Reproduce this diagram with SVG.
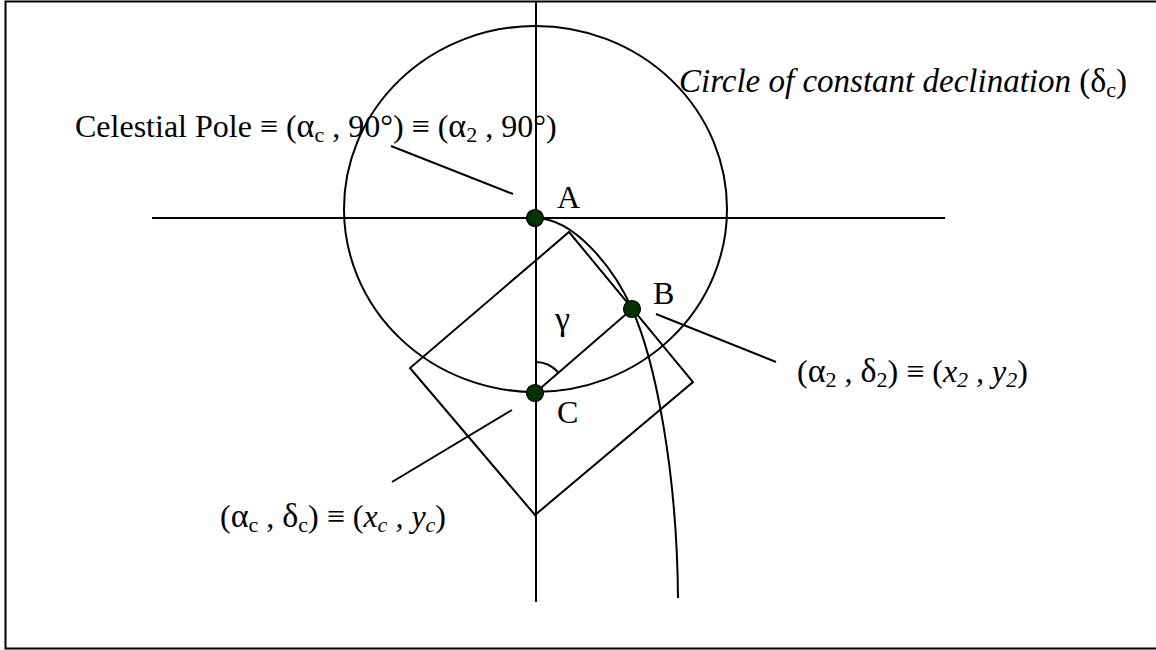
<svg xmlns="http://www.w3.org/2000/svg" width="1156" height="650" viewBox="0 0 1156 650">
<style>
.ln{fill:none;stroke:#000;stroke-width:2}
.dot{fill:#003300;stroke:#000;stroke-width:1.2}
.t{font-family:"Liberation Serif","Times New Roman",serif;font-size:32px;fill:#000}
.it{font-style:italic}
.gr{font-size:34px}
.sub{font-size:22px}
.big{font-size:33px}
</style>
<rect x="5.5" y="1.5" width="1160" height="647" class="ln"/>
<g id="connectors">
<line x1="536" y1="1" x2="536" y2="602" class="ln"/>
<line x1="152" y1="218" x2="945" y2="218" class="ln"/>
<ellipse cx="535.5" cy="209" rx="191.5" ry="183" class="ln"/>
<polygon points="569,232 693,382 535,515 410,368" class="ln"/>
<line x1="535" y1="393" x2="632" y2="309" class="ln"/>
<path d="M535,362 A31,31 0 0 1 558,372" class="ln"/>
<path d="M535,218 C575,218 615,270 632,309 C655,360 677,470 678,598" class="ln"/>
<line x1="391" y1="146" x2="513" y2="194" class="ln"/>
<line x1="656" y1="314" x2="776" y2="362" class="ln"/>
<line x1="512" y1="410" x2="392" y2="482" class="ln"/>
</g>
<g id="node-A">
<circle cx="535" cy="218" r="8.5" class="dot"/>
<text x="557" y="208" class="t">A</text>
</g>
<g id="node-B">
<circle cx="632" cy="309" r="8.5" class="dot"/>
<text x="653" y="304" class="t">B</text>
</g>
<g id="node-C">
<circle cx="535" cy="393" r="8.5" class="dot"/>
<text x="557" y="423" class="t">C</text>
</g>
<g id="label-gamma">
<text x="555" y="330" class="t gr">γ</text>
</g>
<g id="label-pole">
<text x="75" y="137" class="t">Celestial Pole ≡ (<tspan class="gr">α</tspan><tspan class="sub" dy="5">c</tspan><tspan dy="-5"> , 90°) ≡ (</tspan><tspan class="gr">α</tspan><tspan class="sub" dy="5">2</tspan><tspan dy="-5"> , 90°)</tspan></text>
</g>
<g id="label-circle">
<text x="679" y="92" class="t big"><tspan class="it">Circle of constant declination </tspan>(<tspan class="gr">δ</tspan><tspan class="sub" dy="5">c</tspan><tspan dy="-5">)</tspan></text>
</g>
<g id="label-B">
<text x="797" y="382" class="t">(<tspan class="gr">α</tspan><tspan class="sub" dy="5">2</tspan><tspan dy="-5"> , </tspan><tspan class="gr">δ</tspan><tspan class="sub" dy="5">2</tspan><tspan dy="-5">) ≡ (</tspan><tspan class="it">x</tspan><tspan class="sub it" dy="5">2</tspan><tspan dy="-5" class="it"> , y</tspan><tspan class="sub it" dy="5">2</tspan><tspan dy="-5">)</tspan></text>
</g>
<g id="label-C">
<text x="220" y="527" class="t">(<tspan class="gr">α</tspan><tspan class="sub" dy="5">c</tspan><tspan dy="-5"> , </tspan><tspan class="gr">δ</tspan><tspan class="sub" dy="5">c</tspan><tspan dy="-5">) ≡ (</tspan><tspan class="it">x</tspan><tspan class="sub it" dy="5">c</tspan><tspan dy="-5" class="it"> , y</tspan><tspan class="sub it" dy="5">c</tspan><tspan dy="-5">)</tspan></text>
</g>
</svg>
